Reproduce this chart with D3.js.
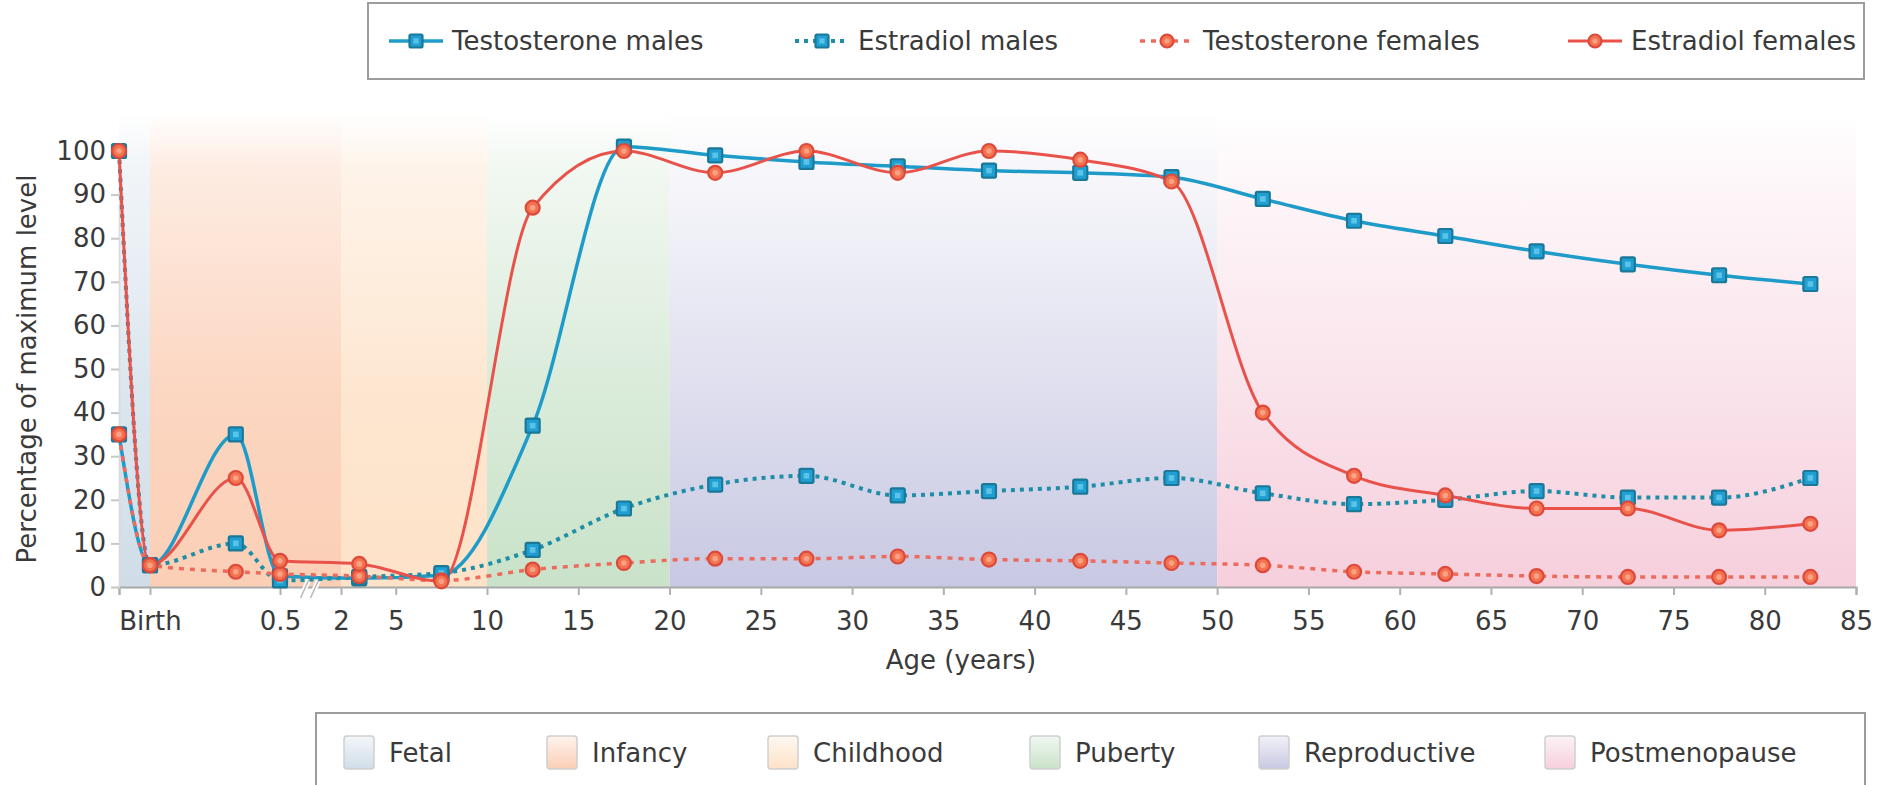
<!DOCTYPE html>
<html>
<head>
<meta charset="utf-8">
<script src="https://cdn.jsdelivr.net/npm/d3@7"></script>
<style>
  html, body { margin: 0; padding: 0; background: #ffffff; }
  svg { display: block; }
  text { font-family: "DejaVu Sans", "Liberation Sans", sans-serif; fill: #3a3a3a; }
</style>
</head>
<body>
<svg id="chart" width="1883" height="785"></svg>
<script>
// ---------------- DATA ----------------
const ages = [-0.75, 0, 0.33, 0.5, 3, 7.5, 12.5, 17.5, 22.5, 27.5, 32.5, 37.5, 42.5, 47.5, 52.5, 57.5, 62.5, 67.5, 72.5, 77.5, 82.5];
const testosteroneMales   = [35, 5, 35, 2.5, 2, 2.7, 37, 101, 99, 97.5, 96.5, 95.5, 95, 94, 89, 84, 80.5, 77, 74, 71.5, 69.5];
const estradiolMales      = [100, 5, 10, 1.5, 2.3, 3.2, 8.5, 18, 23.5, 25.5, 21, 22, 23, 25, 21.5, 19, 20, 22, 20.5, 20.5, 25];
const testosteroneFemales = [35, 5, 3.5, 3, 2.5, 1.5, 4, 5.5, 6.5, 6.5, 7, 6.3, 6, 5.5, 5, 3.5, 3, 2.5, 2.3, 2.3, 2.3];
const estradiolFemales    = [100, 5, 25, 6, 5.3, 1.3, 87, 100, 95, 100, 95, 100, 98, 93, 40, 25.5, 21, 18, 18, 13, 14.5];

const seriesNames = ["Testosterone males", "Estradiol males", "Testosterone females", "Estradiol females"];

const phaseNames  = ["Fetal", "Infancy", "Childhood", "Puberty", "Reproductive", "Postmenopause"];
const phaseStarts = [-0.75, 0, 2, 10, 20, 50];
const phaseEnds   = [0, 2, 10, 20, 50, 85];

const xTickValues = [-0.75, 0, 0.5, 2, 5, 10, 15, 20, 25, 30, 35, 40, 45, 50, 55, 60, 65, 70, 75, 80, 85];
const xTickLabels = ["", "Birth", "0.5", "2", "5", "10", "15", "20", "25", "30", "35", "40", "45", "50", "55", "60", "65", "70", "75", "80", "85"];
const yTickValues = [0, 10, 20, 30, 40, 50, 60, 70, 80, 90, 100];

// ---------------- STYLE ----------------
const seriesStyle = [
  { data: testosteroneMales,   color: "#1e9bc9", dash: null,  marker: "square", width: 3.5 },
  { data: estradiolMales,      color: "#1e8ea6", dash: "4,5", marker: "square", width: 4 },
  { data: testosteroneFemales, color: "#ec6b5d", dash: "5,6", marker: "circle", width: 3.5 },
  { data: estradiolFemales,    color: "#e8524a", dash: null,  marker: "circle", width: 3 }
];
const phaseColors = ["#d0dde8", "#fbcfb6", "#fde2c8", "#c9e2c9", "#c8c8e3", "#f6cfdc"];
const phaseTopOpacity = [0.15, 0.25, 0.25, 0.1, 0.0, 0.0];

const svg = d3.select("#chart");
const defs = svg.append("defs");

const plotTop = 112, plotBottom = 587;
const x = d3.scaleLinear()
  .domain([-0.75, 0, 0.5, 2, 85])
  .range([119, 150, 280, 341, 1856]);
const y = d3.scaleLinear().domain([0, 100]).range([587, 151]);

// gradients for bands
phaseColors.forEach((c, i) => {
  const g = defs.append("linearGradient").attr("id", "band" + i)
    .attr("x1", 0).attr("y1", 0).attr("x2", 0).attr("y2", 1);
  g.append("stop").attr("offset", "0%").attr("stop-color", c).attr("stop-opacity", 0);
  g.append("stop").attr("offset", "12%").attr("stop-color", c).attr("stop-opacity", phaseTopOpacity[i] + 0.15);
  g.append("stop").attr("offset", "60%").attr("stop-color", c).attr("stop-opacity", 0.6 + phaseTopOpacity[i]);
  g.append("stop").attr("offset", "100%").attr("stop-color", c).attr("stop-opacity", 1);
  const s = defs.append("linearGradient").attr("id", "sw" + i)
    .attr("x1", 0).attr("y1", 0).attr("x2", 0).attr("y2", 1);
  s.append("stop").attr("offset", "0%").attr("stop-color", c).attr("stop-opacity", 0.25);
  s.append("stop").attr("offset", "100%").attr("stop-color", c).attr("stop-opacity", 1);
});

// background bands
svg.append("g").selectAll("rect").data(phaseNames).join("rect")
  .attr("x", (d, i) => x(phaseStarts[i]))
  .attr("width", (d, i) => x(phaseEnds[i]) - x(phaseStarts[i]))
  .attr("y", plotTop)
  .attr("height", plotBottom - plotTop)
  .attr("fill", (d, i) => "url(#band" + i + ")");

// axes
const xAxis = d3.axisBottom(x).tickValues(xTickValues)
  .tickFormat((d, i) => xTickLabels[i]).tickSize(8).tickPadding(17);
const gx = svg.append("g").attr("transform", `translate(0,${plotBottom})`).call(xAxis);
gx.select(".domain").attr("stroke", "#a8a8a8").attr("stroke-width", 2);
gx.selectAll(".tick line").attr("stroke", "#b0b0b0").attr("stroke-width", 2);
gx.selectAll(".tick text").attr("font-size", 26).style("fill", "#3a3a3a");

const yAxis = d3.axisLeft(y).tickValues(yTickValues).tickSize(8).tickPadding(5);
const gy = svg.append("g").attr("transform", `translate(${x(-0.75)},0)`).call(yAxis);
gy.select(".domain").attr("stroke", "#d8d8d8").attr("stroke-width", 1.5);
gy.selectAll(".tick line").attr("stroke", "#c8c8c8").attr("stroke-width", 2);
gy.selectAll(".tick text").attr("font-size", 26).style("fill", "#3a3a3a");

// axis break marks
const bx = (x(0.5) + x(2)) / 2;
const brk = svg.append("g");
[-5, 5].forEach(o => {
  brk.append("line").attr("x1", bx + o - 5).attr("y1", plotBottom + 11)
    .attr("x2", bx + o + 5).attr("y2", plotBottom - 11)
    .attr("stroke", "#ffffff").attr("stroke-width", 5);
});
[-5, 5].forEach(o => {
  brk.append("line").attr("x1", bx + o - 5).attr("y1", plotBottom + 11)
    .attr("x2", bx + o + 5).attr("y2", plotBottom - 11)
    .attr("stroke", "#b8b8b8").attr("stroke-width", 1.5);
});

// axis titles
svg.append("text").attr("x", 961).attr("y", 669).attr("text-anchor", "middle")
  .attr("font-size", 26).text("Age (years)");
svg.append("text").attr("transform", "translate(36,369) rotate(-90)")
  .attr("text-anchor", "middle").attr("font-size", 26).text("Percentage of maximum level");

// lines
const line = d3.line().curve(d3.curveMonotoneX).x((d, i) => x(ages[i])).y(d => y(d));
const linesG = svg.append("g");
seriesStyle.forEach(s => {
  linesG.append("path").datum(s.data)
    .attr("d", line).attr("fill", "none")
    .attr("stroke", s.color).attr("stroke-width", s.width)
    .attr("stroke-dasharray", s.dash)
    .attr("stroke-linejoin", "round");
});

function drawMarker(g, type, cx, cy, size) {
  if (type === "square") {
    g.append("rect").attr("x", cx - size / 2).attr("y", cy - size / 2)
      .attr("width", size).attr("height", size).attr("rx", 1.5)
      .attr("fill", "#1f9fd2").attr("stroke", "#1a7898").attr("stroke-width", 2.2);
    g.append("rect").attr("x", cx - size / 5).attr("y", cy - size / 5)
      .attr("width", size / 2.5).attr("height", size / 2.5)
      .attr("fill", "#5cc3e8");
  } else {
    g.append("circle").attr("cx", cx).attr("cy", cy).attr("r", size / 2)
      .attr("fill", "#f3724f").attr("stroke", "#dd4a3c").attr("stroke-width", 2.2);
    g.append("circle").attr("cx", cx).attr("cy", cy).attr("r", size / 5)
      .attr("fill", "#f9a184");
  }
}

const markersG = svg.append("g");
seriesStyle.forEach(s => {
  const g = markersG.append("g");
  s.data.forEach((v, i) => drawMarker(g, s.marker, x(ages[i]), y(v), 14));
});

// top legend
const legTop = svg.append("g");
legTop.append("rect").attr("x", 368).attr("y", 3).attr("width", 1496).attr("height", 76)
  .attr("fill", "#ffffff").attr("stroke", "#9c9c9c").attr("stroke-width", 2);
const legX = [389, 795, 1140, 1568];
seriesStyle.forEach((s, i) => {
  const g = legTop.append("g");
  g.append("line").attr("x1", legX[i]).attr("x2", legX[i] + 54).attr("y1", 41).attr("y2", 41)
    .attr("stroke", s.color).attr("stroke-width", s.width).attr("stroke-dasharray", s.dash);
  drawMarker(g, s.marker, legX[i] + 27, 41, 13);
  g.append("text").attr("x", legX[i] + 63).attr("y", 41).attr("dy", "0.36em")
    .attr("font-size", 26).text(seriesNames[i]);
});

// bottom legend
const legBot = svg.append("g");
legBot.append("rect").attr("x", 316).attr("y", 713).attr("width", 1549).attr("height", 74)
  .attr("fill", "#ffffff").attr("stroke", "#9c9c9c").attr("stroke-width", 2);
const swX = [344, 547, 768, 1030, 1259, 1545];
phaseNames.forEach((n, i) => {
  legBot.append("rect").attr("x", swX[i]).attr("y", 736).attr("width", 30).attr("height", 33)
    .attr("rx", 3).attr("fill", "url(#sw" + i + ")").attr("stroke", "#cfcfcf").attr("stroke-width", 1.5);
  legBot.append("text").attr("x", swX[i] + 45).attr("y", 753).attr("dy", "0.36em")
    .attr("font-size", 26).text(n);
});
</script>
</body>
</html>
